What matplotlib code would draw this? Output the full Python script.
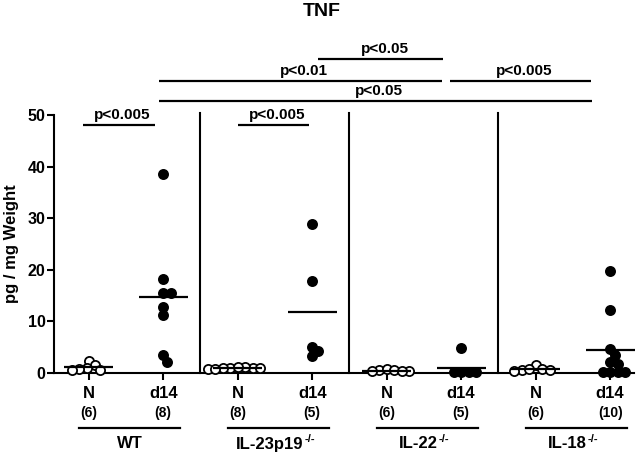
import numpy as np
import matplotlib
matplotlib.use("Agg")
import matplotlib.pyplot as plt

plt.rcParams['font.family'] = ['Liberation Sans', 'DejaVu Sans']
plt.rcParams['font.weight'] = 'bold'

# ---------------- data ----------------
groups = ['WT', 'IL-23p19', 'IL-22', 'IL-18']
group_sup = ['', '-/-', '-/-', '-/-']
conditions = ['N', 'd14']
counts = ['(6)', '(8)', '(8)', '(5)', '(6)', '(5)', '(6)', '(10)']

wt_n = [2.4, 1.6, 1.0, 0.8, 0.6, 0.5]
wt_d14 = [38.6, 18.2, 15.6, 15.6, 12.7, 11.2, 3.5, 2.2]
il23_n = [1.0, 0.9, 1.1, 0.8, 1.2, 0.9, 1.0, 0.8]
il23_d14 = [28.9, 17.8, 5.1, 4.3, 3.2]
il22_n = [0.5, 0.4, 0.7, 0.5, 0.3, 0.4]
il22_d14 = [4.8, 0.1, 0.1, 0.2, 0.1]
il18_n = [1.5, 0.8, 0.6, 0.5, 0.7, 0.4]
il18_d14 = [19.8, 12.2, 4.6, 3.5, 2.1, 1.8, 0.2, 0.2, 0.2, 0.2]

series = [wt_n, wt_d14, il23_n, il23_d14, il22_n, il22_d14, il18_n, il18_d14]

# significance brackets: (start, end, label, height) in category / value units
brackets = [
    (-0.08, 0.89, 'p<0.005', 48.0),
    (2.0, 2.96, 'p<0.005', 48.0),
    (0.94, 6.75, 'p<0.05', 52.7),
    (0.94, 4.74, 'p<0.01', 56.6),
    (4.85, 6.74, 'p<0.005', 56.6),
    (3.08, 4.76, 'p<0.05', 60.9),
]

# ---------------- figure ----------------
W, H, DPI = 638, 455, 100
fig = plt.figure(figsize=(W / DPI, H / DPI), dpi=DPI)
ax_left, ax_right, ax_bot, ax_top = 54, 634, 373, 115
ax = fig.add_axes([ax_left / W, (H - ax_bot) / H, (ax_right - ax_left) / W, (ax_bot - ax_top) / H])

xlo, xhi = -0.466, 7.32
ax.set_xlim(xlo, xhi)
ax.set_ylim(0, 50)

px_per_x = (ax_right - ax_left) / (xhi - xlo)
px_per_y = (ax_bot - ax_top) / 50.0
D = 7.5  # minimum centre spacing in px (markers may overlap a bit)


def swarm(values):
    order = np.argsort(values)[::-1]
    placed = []
    xs = np.zeros(len(values))
    for idx in order:
        y = values[idx] * px_per_y
        cands = [0.0]
        for (px, py) in placed:
            dy = abs(py - y)
            if dy < D:
                dx = np.sqrt(D ** 2 - dy ** 2)
                cands += [px + dx, px - dx]
        cands = sorted(cands, key=lambda c: (abs(c), -c))
        for c in cands:
            if all((c - px) ** 2 + (y - py) ** 2 >= D ** 2 - 1e-6 for (px, py) in placed):
                break
        placed.append((c, y))
        xs[idx] = c / px_per_x
    return xs


for i, vals in enumerate(series):
    vals = np.asarray(vals, dtype=float)
    offs = swarm(vals)
    open_marker = (i % 2 == 0)
    ax.plot(i + offs, vals, 'o', ms=6.6,
            mfc='white' if open_marker else 'black', mec='black', mew=1.3,
            ls='none', clip_on=False, zorder=3)
    ax.plot([i - 0.33, i + 0.33], [vals.mean()] * 2, color='black', lw=1.6,
            clip_on=False, zorder=4, solid_capstyle='butt')

# dividers between groups
for xd in [1.5, 3.5, 5.5]:
    ax.plot([xd, xd], [0, 50.4], color='black', lw=1.5, clip_on=False)

# significance brackets
for x0, x1, lab, yl in brackets:
    ax.plot([x0, x1], [yl, yl], color='black', lw=1.6, clip_on=False,
            solid_capstyle='butt')
    ax.text((x0 + x1) / 2 + 0.05, yl + 0.6, lab, ha='center', va='bottom',
            fontsize=11, fontweight='bold')

# axes styling
for s in ['top', 'right']:
    ax.spines[s].set_visible(False)
for s in ['left', 'bottom']:
    ax.spines[s].set_linewidth(1.5)
ax.set_yticks([0, 10, 20, 30, 40, 50])
ax.tick_params(axis='y', direction='out', length=5, width=1.5, labelsize=11.5, pad=1)
ax.set_xticks(range(8))
ax.set_xticklabels([])
ax.tick_params(axis='x', direction='out', length=5, width=1.5)
for lab in ax.get_yticklabels():
    lab.set_fontweight('bold')

ax.set_ylabel('pg / mg Weight', fontsize=12, fontweight='bold', labelpad=6)

trans = ax.get_xaxis_transform()
hpx = ax_bot - ax_top
for i in range(8):
    ax.text(i, -20 / hpx, conditions[i % 2], transform=trans, ha='center', va='center',
            fontsize=12, fontweight='bold')
    ax.text(i, -40 / hpx, counts[i], transform=trans, ha='center', va='center',
            fontsize=10, fontweight='bold')

for g, name in enumerate(groups):
    c = 2 * g + 0.55
    ax.plot([c - 0.68, c + 0.68], [-55 / hpx] * 2, transform=trans, color='black',
            lw=1.6, clip_on=False)
    shift = 0.12 if group_sup[g] else 0.0
    base = ax.text(c - shift, -71 / hpx, name, transform=trans, ha='center', va='center',
                   fontsize=12, fontweight='bold')
    if group_sup[g]:
        ax.annotate(group_sup[g], xy=(1.0, 1.0), xycoords=base, xytext=(0.5, 1.5),
                    textcoords='offset points', ha='left', va='top',
                    fontsize=8, fontweight='bold')

fig.text(322 / W, 1 - 12 / H, 'TNF', ha='center', va='center', fontsize=14, fontweight='bold')

fig.savefig('out.png', dpi=DPI)
